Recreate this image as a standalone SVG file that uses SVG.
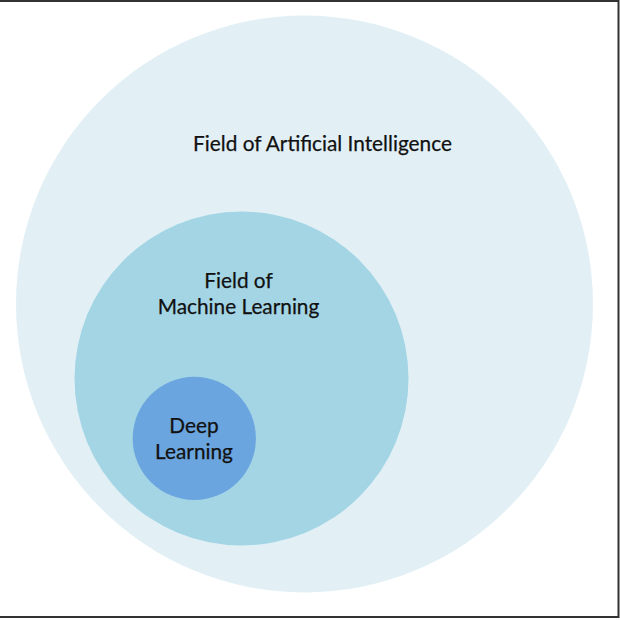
<svg xmlns="http://www.w3.org/2000/svg" width="620" height="620" viewBox="0 0 620 620">
  <style>
    .lbl { font-family: Lato, "Open Sans", "Liberation Sans", sans-serif; font-size: 20.8px; fill: #111111; text-anchor: middle; stroke: #111111; stroke-width: 0.25px; }
    .frame { stroke: #333; stroke-width: 2; fill: none; }
  </style>
  <rect x="0" y="0" width="620" height="620" fill="#ffffff"/>
  <g id="ai">
    <circle cx="304.5" cy="304" r="288.5" fill="#E2F0F6"/>
    <text class="lbl" x="322.5" y="151">Field of Artificial Intelligence</text>
  </g>
  <g id="ml">
    <circle cx="241.5" cy="378.5" r="167" fill="#A3D5E5"/>
    <text class="lbl" x="238.5" y="288">Field of</text>
    <text class="lbl" x="238.5" y="314">Machine Learning</text>
  </g>
  <g id="dl">
    <circle cx="194.3" cy="438.4" r="61.6" fill="#6BA5DF"/>
    <text class="lbl" x="194" y="433">Deep</text>
    <text class="lbl" x="194" y="459">Learning</text>
  </g>
  <g id="connectors"></g>
  <path class="frame" d="M0 1 H618.5 V617 H0"/>
</svg>
